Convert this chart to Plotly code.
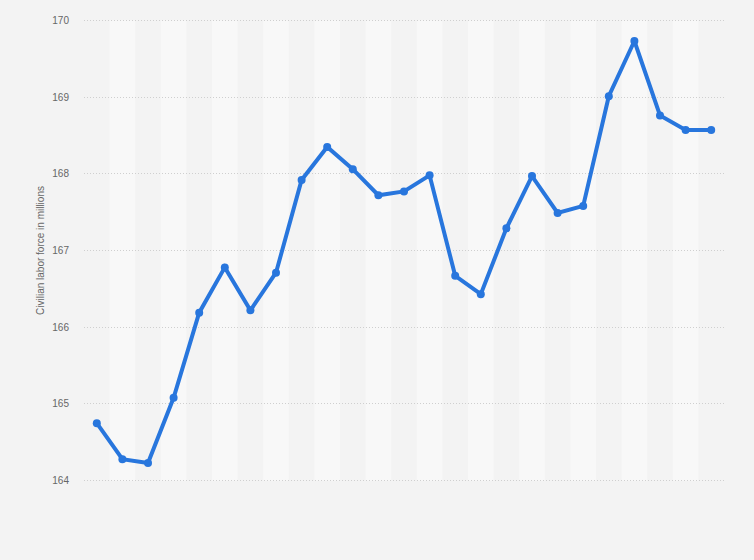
import plotly.graph_objects as go

categories = list(range(1, 26))
labor_force = [164.75, 164.28, 164.23, 165.08, 166.19, 166.78, 166.22, 166.71,
               167.92, 168.35, 168.06, 167.72, 167.77, 167.98, 166.67, 166.43,
               167.29, 167.97, 167.49, 167.58, 169.01, 169.73, 168.76, 168.57, 168.57]
y_ticks = [164, 165, 166, 167, 168, 169, 170]

fig = go.Figure()
fig.add_trace(go.Scatter(
    x=categories, y=labor_force, mode="lines+markers",
    line=dict(color="#2876dd", width=4),
    marker=dict(color="#2876dd", size=8),
    hoverinfo="x+y", showlegend=False,
))

shapes = []
for i, c in enumerate(categories):
    if i % 2 == 1:
        shapes.append(dict(type="rect", xref="x", yref="y",
                           x0=c - 0.5, x1=c + 0.5, y0=y_ticks[0], y1=y_ticks[-1],
                           fillcolor="#f8f8f8", line=dict(width=0), layer="below"))

fig.update_layout(
    width=754, height=560,
    margin=dict(l=84, r=30, t=18, b=77),
    paper_bgcolor="#f3f3f3", plot_bgcolor="#f3f3f3",
    shapes=shapes,
    font=dict(family="Liberation Sans, Arial, sans-serif", color="#666666", size=10),
    xaxis=dict(range=[0.5, 25.5], showticklabels=False, showgrid=False,
               zeroline=False, showline=False, fixedrange=True),
    yaxis=dict(range=[163.97, 170.03], tickvals=y_ticks, showgrid=True,
               gridcolor="#cfcfcf", griddash="1px,2px", gridwidth=1,
               zeroline=False, showline=False, ticks="",
               ticklabelstandoff=14,
               tickfont=dict(size=10, color="#666666"),
               title=dict(text="Civilian labor force in millions",
                          font=dict(size=10, color="#666666"), standoff=5)),
)

fig.write_html("out.html", config={"displayModeBar": False},
               post_script="document.body.style.margin='0px';")
